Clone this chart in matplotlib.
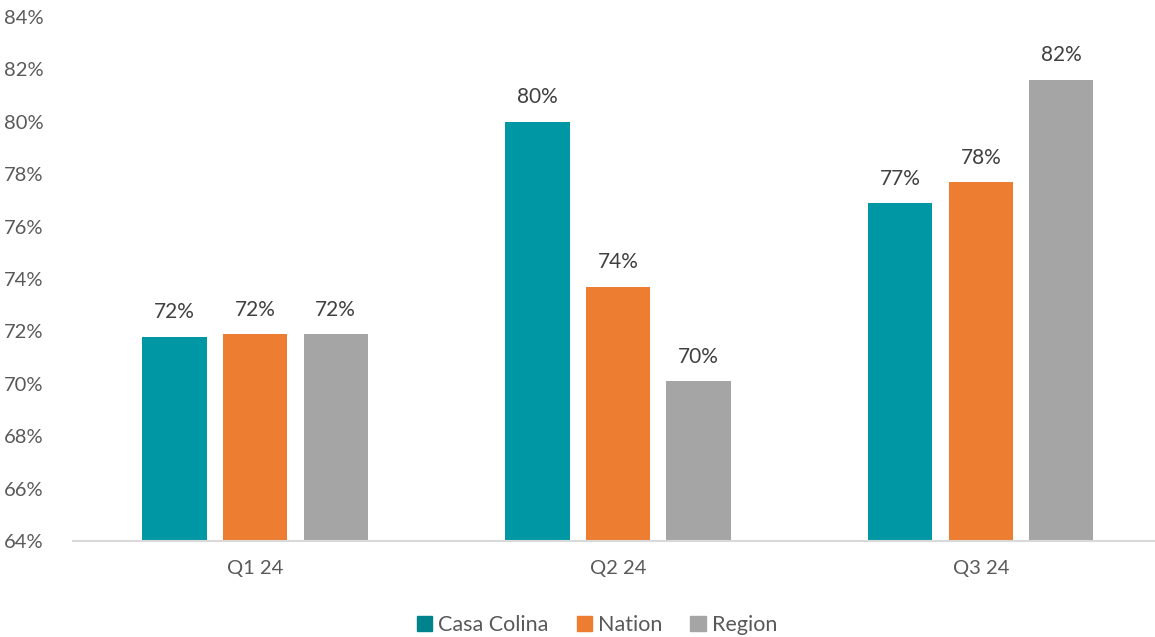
import matplotlib
matplotlib.use("Agg")
import matplotlib.pyplot as plt
import numpy as np
from matplotlib.patches import Patch

categories = ["Q1 24", "Q2 24", "Q3 24"]
series_names = ["Casa Colina", "Nation", "Region"]
casa_colina = [71.8, 80.0, 76.9]
nation = [71.9, 73.7, 77.7]
region = [71.9, 70.1, 81.6]
labels = [["72%", "80%", "77%"], ["72%", "74%", "78%"], ["72%", "70%", "82%"]]
colors = ["#0097A5", "#ED7D31", "#A5A5A5"]
legend_colors = ["#00838C", "#ED7D31", "#A5A5A5"]
yticks = list(range(64, 85, 2))

plt.rcParams['font.family'] = ['Lato', 'DejaVu Sans']

fig = plt.figure(figsize=(11.55, 6.37), dpi=100)
ax = fig.add_axes([73/1155, 96/637, 1 - 73/1155, (541-17)/637])

x = np.arange(len(categories))
width = 0.177
pitch = 0.222
for i, vals in enumerate([casa_colina, nation, region]):
    pos = x + (i - 1) * pitch
    ax.bar(pos, np.array(vals) - 64, width, bottom=64, color=colors[i])
    for p, v, lab in zip(pos, vals, labels[i]):
        ax.text(p, v + 0.55, lab, ha="center", va="bottom", fontsize=15, color="#404040")

ax.set_ylim(64, 84)
ax.set_xlim(-0.502, 2.48)
ax.set_yticks(yticks)
ax.set_yticklabels([f"{t}%" for t in yticks])
ax.set_xticks(x)
ax.set_xticklabels(categories)
ax.tick_params(axis="both", length=0, labelsize=14.5, colors="#595959")
ax.tick_params(axis="y", pad=21)
ax.tick_params(axis="x", pad=14)
for s in ["top", "right", "left"]:
    ax.spines[s].set_visible(False)
ax.spines["bottom"].set_color("#D9D9D9")
ax.spines["bottom"].set_linewidth(1.5)

handles = [Patch(color=c, label=n) for c, n in zip(legend_colors, series_names)]
fig.legend(handles=handles, loc="center", bbox_to_anchor=(597/1155, 1 - 625/637), ncol=3,
           frameon=False, fontsize=15.5, labelcolor="#595959", handlelength=0.7, handleheight=0.7,
           handletextpad=0.3, columnspacing=1.3)

fig.savefig("out.png", dpi=100)
